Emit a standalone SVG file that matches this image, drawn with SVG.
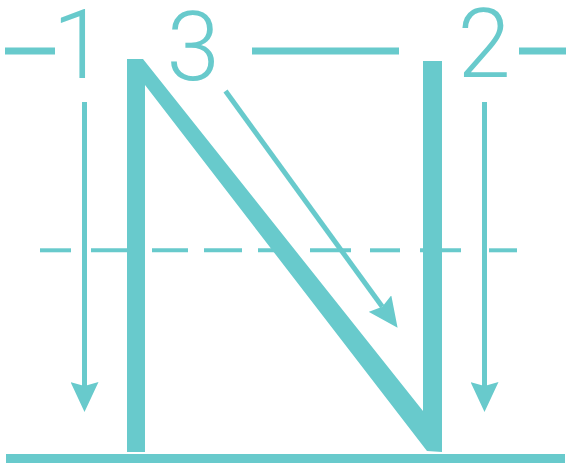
<svg xmlns="http://www.w3.org/2000/svg" width="568" height="466" viewBox="0 0 568 466">
  <style>
    .ink { fill: #68CACC; }
    .rule { stroke: #68CACC; fill: none; }
    .guide { stroke-width: 7; }
    .dash { stroke-width: 4; }
    .shaft { stroke: #68CACC; stroke-width: 5; fill: none; }
    .num { font-family: Roboto, "Liberation Sans", sans-serif; font-weight: 300; font-size: 96px; fill: #68CACC; text-anchor: middle; }
  </style>
  <defs>
    <marker id="head" markerUnits="userSpaceOnUse" viewBox="0 -14 30 28" refX="4" refY="0" markerWidth="30" markerHeight="28" orient="auto">
      <path d="M0,-14 L30,0 L0,14 L4,0 Z" fill="#68CACC"/>
    </marker>
  </defs>

  <g id="guides">
    <line class="rule guide" x1="5" y1="51" x2="55" y2="51"/>
    <line class="rule guide" x1="252" y1="51" x2="399" y2="51"/>
    <line class="rule guide" x1="519" y1="51" x2="566" y2="51"/>
    <g id="midline">
      <line class="rule dash" x1="40" y1="250.3" x2="71" y2="250.3"/>
      <line class="rule dash" x1="91" y1="250.3" x2="127" y2="250.3"/>
      <line class="rule dash" x1="152" y1="250.3" x2="188" y2="250.3"/>
      <line class="rule dash" x1="204" y1="250.3" x2="242" y2="250.3"/>
      <line class="rule dash" x1="258" y1="250.3" x2="293" y2="250.3"/>
      <line class="rule dash" x1="310" y1="250.3" x2="351" y2="250.3"/>
      <line class="rule dash" x1="370" y1="250.3" x2="400" y2="250.3"/>
      <line class="rule dash" x1="420" y1="250.3" x2="461" y2="250.3"/>
      <line class="rule dash" x1="489" y1="250.3" x2="517" y2="250.3"/>
    </g>
    <rect class="ink" x="6" y="454" width="559" height="9"/>
  </g>

  <g id="letter-N">
    <polygon class="ink" points="127,59 143,59 423,411 423,61 442,61 442,452 427,451 145,85 145,452 127,452"/>
  </g>

  <g id="label-1"><text class="num" x="79" y="78">1</text></g>
  <g id="label-3"><text class="num" x="193" y="80">3</text></g>
  <g id="label-2"><text class="num" x="484" y="77">2</text></g>

  <g id="connectors">
    <line class="shaft" x1="84.5" y1="102" x2="84.5" y2="386" marker-end="url(#head)"/>
    <line class="shaft" x1="484.5" y1="102" x2="484.5" y2="386" marker-end="url(#head)"/>
    <line class="shaft" x1="225.5" y1="91" x2="382.3" y2="306.8" marker-end="url(#head)"/>
  </g>
</svg>
